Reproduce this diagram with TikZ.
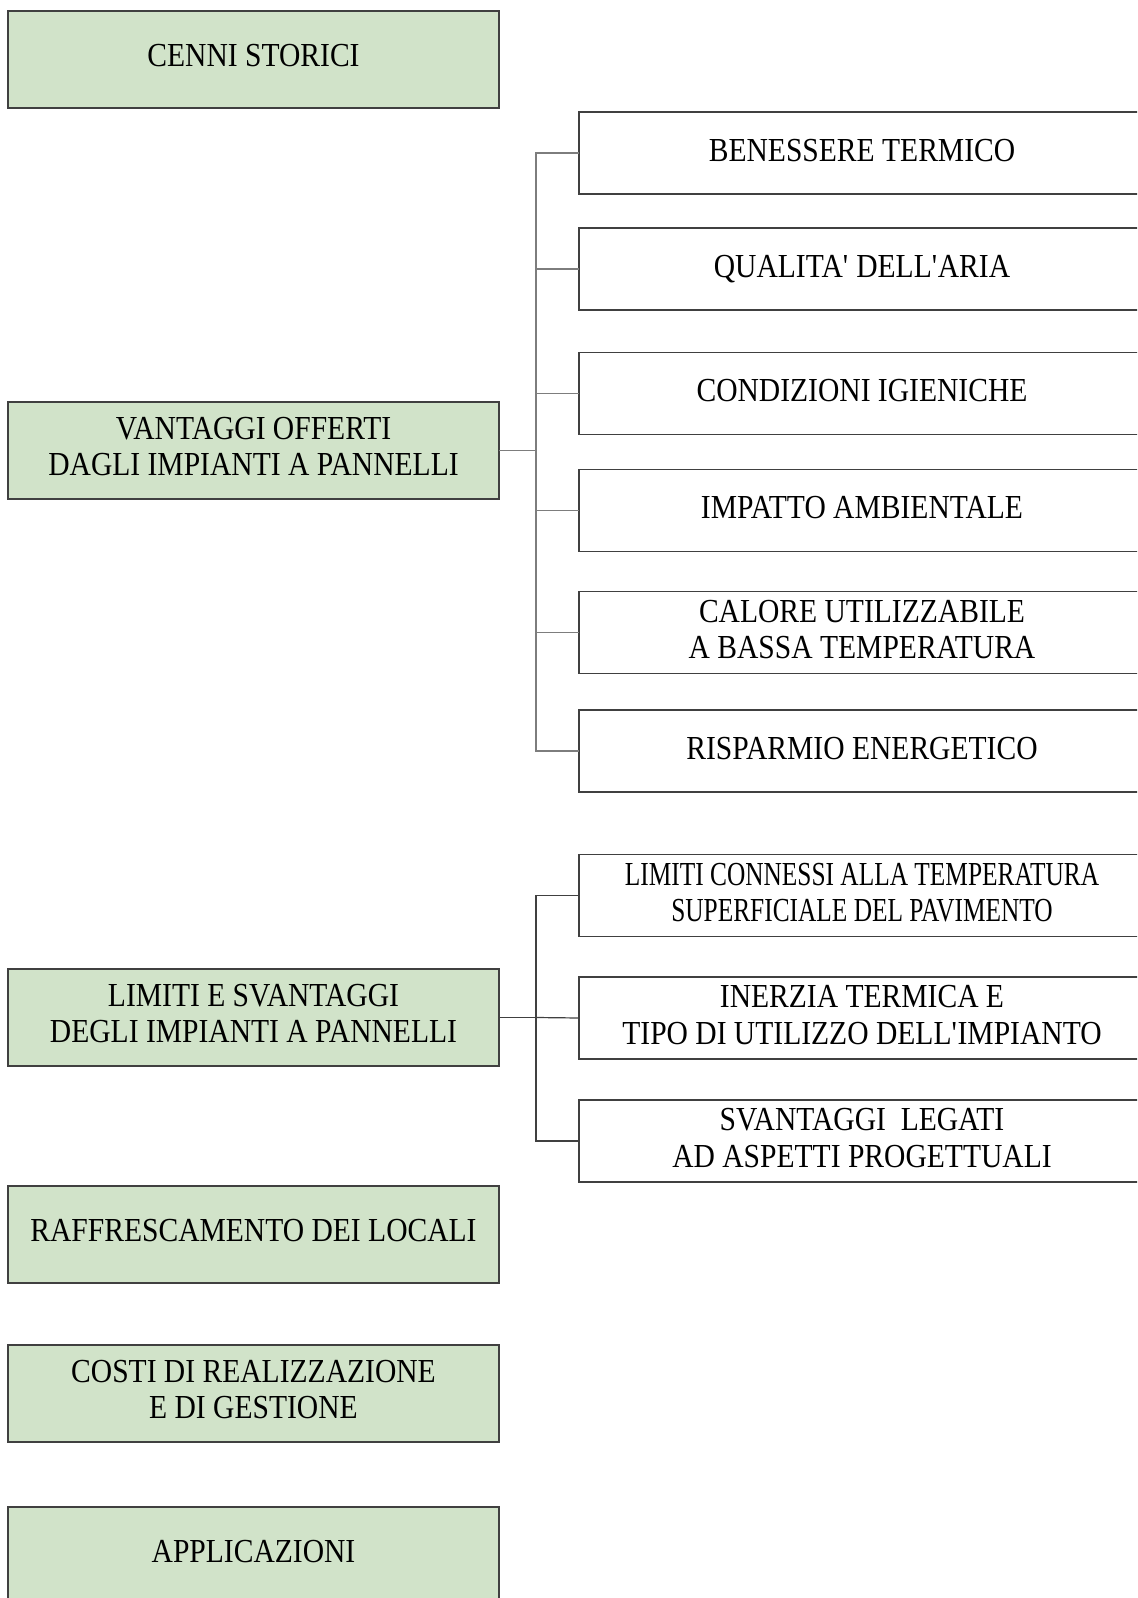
\documentclass[tikz,border=0pt]{standalone}
\usepackage{fontspec}
\setmainfont{Liberation Serif}[FakeStretch=0.88]
\newfontfamily\tightserif{Liberation Serif}[FakeStretch=0.755]
\definecolor{boxgreen}{RGB}{209,227,201}
\definecolor{boxline}{RGB}{64,64,64}
\definecolor{linkgray}{RGB}{125,125,125}
\tikzset{
    topic/.style={draw=boxline, line width=0.75pt, fill=boxgreen,
        minimum width=245.5pt, minimum height=48.5pt, inner sep=0pt, outer sep=0pt,
        align=center, text depth=4pt, font=\fontsize{16.8pt}{18.3pt}\selectfont},
    subtopic/.style={draw=boxline, line width=0.75pt, fill=white,
        minimum width=283pt, minimum height=41pt, inner sep=0pt, outer sep=0pt,
        align=center, text depth=3pt, font=\fontsize{16.8pt}{18.3pt}\selectfont},
    link/.style={draw=linkgray, line width=0.6pt},
    darklink/.style={draw=boxline, line width=0.6pt}
}
\begin{document}
\begin{tikzpicture}[x=0.5pt,y=-0.5pt]
    \useasboundingbox (0,0) rectangle (1137,1598);
    \clip (0,0) rectangle (1137,1598);
    % main topics
    \node[topic] (cenni) at (253.5,59.5) {CENNI STORICI};
    \node[topic] (vantaggi) at (253.5,450.5) {VANTAGGI OFFERTI\\DAGLI IMPIANTI A PANNELLI};
    \node[topic] (limiti) at (253.5,1017.5) {LIMITI E SVANTAGGI\\DEGLI IMPIANTI A PANNELLI};
    \node[topic] (raffr) at (253.5,1234.5) {RAFFRESCAMENTO DEI LOCALI};
    \node[topic] (costi) at (253.5,1393.5) {COSTI DI REALIZZAZIONE\\E DI GESTIONE};
    \node[topic] (applic) at (253.5,1555.5) {APPLICAZIONI};
    % vantaggi
    \node[subtopic] (benessere) at (862,153) {BENESSERE TERMICO};
    \node[subtopic] (aria) at (862,269) {QUALITA\textquotesingle{} DELL\textquotesingle ARIA};
    \node[subtopic] (igiene) at (862,393.5) {CONDIZIONI IGIENICHE};
    \node[subtopic] (impatto) at (862,510.5) {IMPATTO AMBIENTALE};
    \node[subtopic] (calore) at (862,632.5) {CALORE UTILIZZABILE\\A BASSA TEMPERATURA};
    \node[subtopic] (risparmio) at (862,751) {RISPARMIO ENERGETICO};
    % limiti
    \node[subtopic] (tsup) at (862,895.5)
        {\tightserif LIMITI CONNESSI ALLA TEMPERATURA\\\tightserif SUPERFICIALE DEL PAVIMENTO};
    \node[subtopic] (inerzia) at (862,1018) {INERZIA TERMICA E\\TIPO DI UTILIZZO DELL\textquotesingle IMPIANTO};
    \node[subtopic] (progetto) at (862,1141) {SVANTAGGI~~LEGATI\\AD ASPETTI PROGETTUALI};

    \coordinate (vbus) at (536,450.5);
    \coordinate (lbus) at (536,1017.5);
    \draw[link] (vantaggi.east) -- (vbus);
    \draw[link] (benessere.west) -| (vbus);
    \draw[link] (aria.west) -| (vbus);
    \draw[link] (igiene.west) -| (vbus);
    \draw[link] (impatto.west) -| (vbus);
    \draw[link] (calore.west) -| (vbus);
    \draw[link] (risparmio.west) -| (vbus);
    \draw[darklink] (limiti.east) -- (lbus);
    \draw[darklink] (tsup.west) -| (lbus);
    \draw[darklink] (inerzia.west) -- (lbus);
    \draw[darklink] (progetto.west) -| (lbus);
\end{tikzpicture}
\end{document}
